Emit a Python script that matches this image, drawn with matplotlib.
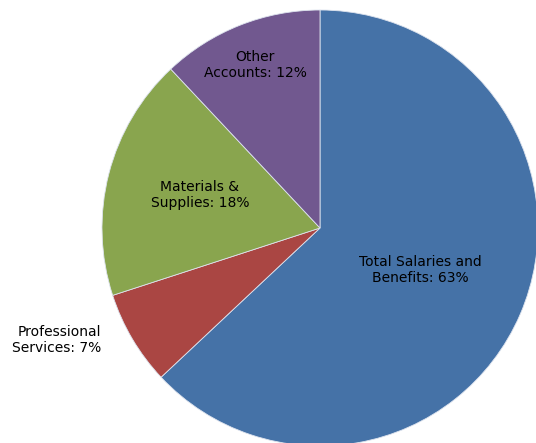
import matplotlib.pyplot as plt

# slices, clockwise from 12 o'clock
categories = ['Total Salaries and\nBenefits', 'Professional\nServices',
              'Materials &\nSupplies', 'Other\nAccounts']
shares = [63, 7, 18, 12]
colors = ['#4572A7', '#AA4643', '#89A54E', '#71588F']

W, H = 536, 443
fig = plt.figure(figsize=(W / 100, H / 100), dpi=100)
ax = fig.add_axes([0, 0, 1, 1])

# work in pixel units (y measured from the bottom)
cx, cy, r = 320, H - 228, 218
ax.pie(shares, colors=colors, startangle=90, counterclock=False,
       center=(cx, cy), radius=r, frame=True,
       wedgeprops=dict(edgecolor='#dde3ee', linewidth=0.6))
ax.set_xlim(0, W)
ax.set_ylim(0, H)
ax.set_aspect('equal')
ax.axis('off')

labels = [f'{c}: {s}%' for c, s in zip(categories, shares)]
# label anchor points in pixel coords
spots = [(420, 270, 'center'), (101, 340, 'right'),
         (200, 195, 'center'), (255, 65, 'center')]
for text, (x, y, ha) in zip(labels, spots):
    ax.text(x, H - y, text, ha=ha, va='center', multialignment=ha,
            fontsize=10, color='black', linespacing=1.2)

fig.savefig('out.png', dpi=100)
